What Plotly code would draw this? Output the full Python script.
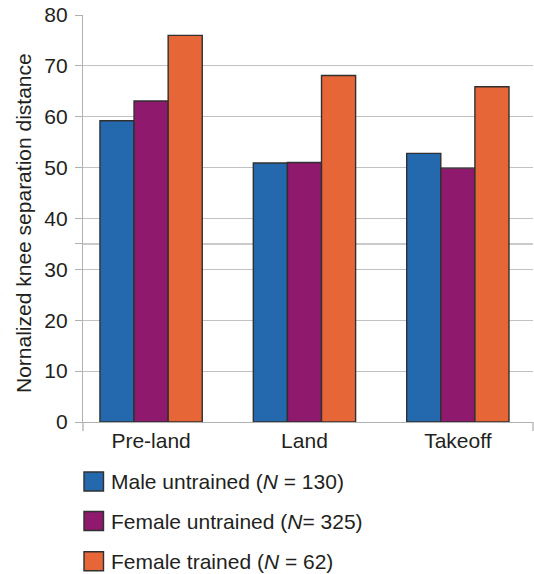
import plotly.graph_objects as go

# Phases of the jump and group means
phases = ["Pre-land", "Land", "Takeoff"]
male_untrained = [59.2, 50.9, 52.8]
female_untrained = [63.1, 51.0, 49.9]
female_trained = [76.0, 68.1, 65.9]

series_names = [
    "Male untrained (<i>N</i> = 130)",
    "Female untrained (<i>N</i>= 325)",
    "Female trained (<i>N</i> = 62)",
]
series_values = [male_untrained, female_untrained, female_trained]
series_colors = ["#2468ad", "#8e196d", "#e66637"]

y_ticks = [0, 10, 20, 30, 40, 50, 60, 70, 80]
extra_grid = [35]

W, H = 534, 574
M_L, M_R, M_T, M_B = 83, 1, 15, 152
PW, PH = W - M_L - M_R, H - M_T - M_B

FONT = "Liberation Sans, Arial, Helvetica, sans-serif"
TXT = "#231f20"
FS = 21
GRID = "#c2c2c2"
AXIS = "#b0b0b0"


def px_x(px):
    return (px - M_L) / PW


def px_y(py):
    return (H - M_B - py) / PH


fig = go.Figure()
for name, vals, col in zip(series_names, series_values, series_colors):
    fig.add_trace(go.Bar(
        x=phases, y=vals, name=name,
        marker=dict(color=col, line=dict(color="#303030", width=1.4)),
        showlegend=False,
    ))

shapes = []
# additional reference line drawn between grid and bars
for yv in extra_grid:
    shapes.append(dict(type="line", xref="paper", yref="y", layer="between",
                       x0=0, x1=1, y0=yv, y1=yv,
                       line=dict(color="#b8b8b8", width=1.6)))
# axis end ticks below the baseline
for xp in (0, 1):
    shapes.append(dict(type="line", xref="paper", yref="paper",
                       x0=xp, x1=xp, y0=0, y1=-9 / PH,
                       line=dict(color=AXIS, width=1.3)))

# legend swatches and labels
annotations = []
leg_y = [481.5, 521.0, 561.3]
for name, col, cy in zip(series_names, series_colors, leg_y):
    shapes.append(dict(type="rect", xref="paper", yref="paper",
                       x0=px_x(84), x1=px_x(103.5),
                       y0=px_y(cy + 9.5), y1=px_y(cy - 9.5),
                       fillcolor=col, line=dict(color="#303030", width=1.4)))
    annotations.append(dict(text=name, xref="paper", yref="paper",
                            x=px_x(109), y=px_y(cy), xanchor="left",
                            yanchor="middle", showarrow=False,
                            font=dict(family=FONT, size=FS, color=TXT)))

annotations.append(dict(text="Nornalized knee separation distance",
                        xref="paper", yref="paper", x=px_x(23.5),
                        y=px_y(223.5), textangle=-90, xanchor="center",
                        yanchor="middle", showarrow=False,
                        font=dict(family=FONT, size=FS, color=TXT)))

fig.update_layout(
    width=W, height=H,
    margin=dict(l=M_L, r=M_R, t=M_T, b=M_B, autoexpand=False),
    paper_bgcolor="white", plot_bgcolor="white",
    barmode="group", bargap=0.333, bargroupgap=0,
    font=dict(family=FONT, size=FS, color=TXT),
    shapes=shapes, annotations=annotations,
    xaxis=dict(
        type="category", range=[-0.444, 2.49],
        showline=True, linecolor=AXIS, linewidth=1.3,
        showgrid=False, ticks="", tickfont=dict(size=FS, color=TXT),
        automargin=False,
    ),
    yaxis=dict(
        range=[0, 80], tickmode="array", tickvals=y_ticks,
        showgrid=True, gridcolor=GRID, gridwidth=1.4,
        showline=True, linecolor=AXIS, linewidth=1.3,
        ticks="outside", ticklen=7, tickcolor=AXIS, tickwidth=1.3,
        ticklabelstandoff=3,
        tickfont=dict(size=FS, color=TXT), zeroline=False,
        automargin=False,
        minor=dict(tickmode="array", tickvals=extra_grid, showgrid=False,
                   ticks="outside", ticklen=7, tickcolor=AXIS,
                   tickwidth=1.3),
    ),
)

fig.write_html("out.html")
